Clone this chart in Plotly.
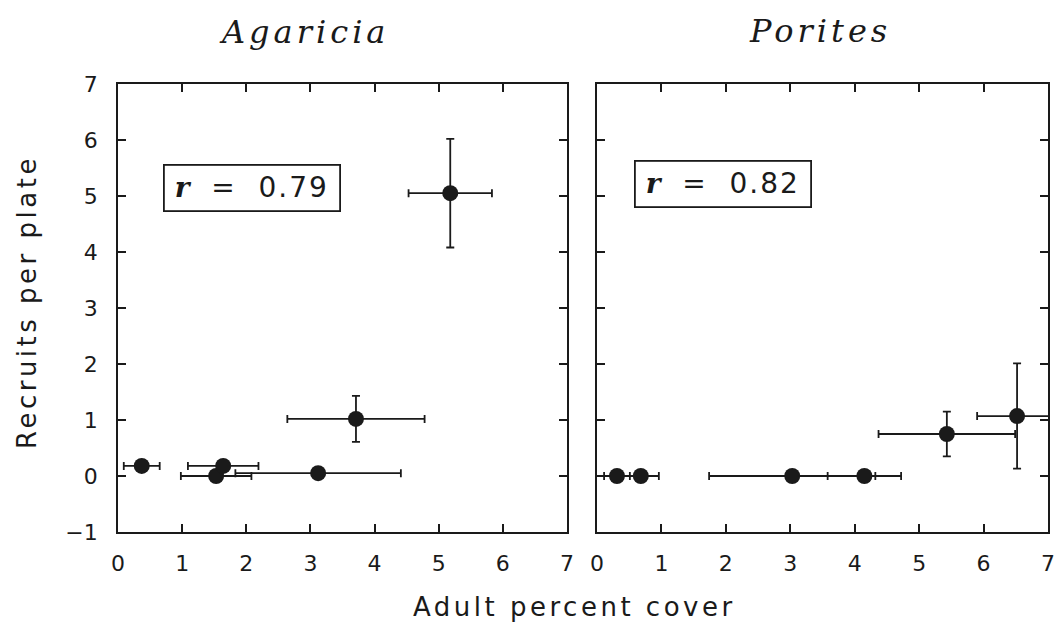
import plotly.graph_objects as go

# ---- data ----
agaricia_cover = [0.37, 1.53, 1.64, 3.12, 3.71, 5.18]
agaricia_cover_err = [0.28, 0.55, 0.55, 1.29, 1.07, 0.65]
agaricia_recruits = [0.18, 0.0, 0.18, 0.05, 1.02, 5.05]
agaricia_recruits_err = [0.0, 0.0, 0.0, 0.0, 0.41, 0.97]

porites_cover = [0.31, 0.68, 3.03, 4.15, 5.43, 6.52]
porites_cover_err = [0.20, 0.28, 1.29, 0.57, 1.06, 0.62]
porites_recruits = [0.0, 0.0, 0.0, 0.0, 0.75, 1.07]
porites_recruits_err = [0.0, 0.0, 0.0, 0.0, 0.40, 0.94]

panel_titles = ["Agaricia", "Porites"]
r_values = ["0.79", "0.82"]
tick_vals_x = [0, 1, 2, 3, 4, 5, 6, 7]
tick_vals_y = [-1, 0, 1, 2, 3, 4, 5, 6, 7]

W, H = 1059, 624
INK = "#1a1a1a"
SANS = "DejaVu Sans"

def px_x(p):
    return p / W

def px_y(p):
    return 1 - p / H

fig = go.Figure()

def add_panel(x, xerr, y, yerr, xa, ya):
    fig.add_trace(go.Scatter(
        x=x, y=y, mode="markers", xaxis=xa, yaxis=ya,
        marker=dict(color=INK, size=16, symbol="circle"),
        error_x=dict(type="data", array=xerr, visible=True, color=INK, thickness=1.8, width=4),
        error_y=dict(type="data", array=yerr, visible=True, color=INK, thickness=1.8, width=4),
        showlegend=False, hoverinfo="skip",
    ))

add_panel(agaricia_cover, agaricia_cover_err, agaricia_recruits, agaricia_recruits_err, "x", "y")
add_panel(porites_cover, porites_cover_err, porites_recruits, porites_recruits_err, "x2", "y2")

yd = [px_y(532), px_y(84)]
common_x = dict(range=[0, 7], tickvals=tick_vals_x, ticks="inside", ticklen=8, tickwidth=1.8,
                tickcolor=INK, showline=True, linecolor=INK, linewidth=1.8, mirror="ticks",
                showgrid=False, zeroline=False, fixedrange=True, automargin=False,
                tickfont=dict(family=SANS, size=22, color=INK), ticklabelstandoff=11)
common_y = dict(range=[-1, 7], tickvals=tick_vals_y, ticks="inside", ticklen=8, tickwidth=1.8,
                tickcolor=INK, showline=True, linecolor=INK, linewidth=1.8, mirror="ticks",
                showgrid=False, zeroline=False, fixedrange=True, automargin=False,
                tickfont=dict(family=SANS, size=22, color=INK), ticklabelstandoff=14)

fig.update_layout(
    width=W, height=H, autosize=False,
    margin=dict(l=0, r=0, t=0, b=0, autoexpand=False),
    paper_bgcolor="white", plot_bgcolor="white",
    xaxis=dict(domain=[px_x(118), px_x(567)], anchor="y", **common_x),
    yaxis=dict(domain=yd, anchor="x", **common_y),
    xaxis2=dict(domain=[px_x(597), px_x(1048)], anchor="y2", **common_x),
    yaxis2=dict(domain=yd, anchor="x2", showticklabels=False, **common_y),
)

def spaced(t, sp):
    return '<span style="letter-spacing:%spx">%s</span>' % (sp, t)

anns = []
# panel titles
for t, cx, cy in zip(panel_titles, [304, 820], [32, 31]):
    anns.append(dict(x=px_x(cx), y=px_y(cy), xref="paper", yref="paper",
                     text="<i>" + spaced(t, 4) + "</i>", showarrow=False,
                     xanchor="center", yanchor="middle",
                     font=dict(family="DejaVu Serif", size=32, color=INK)))
# r boxes
for rv, cx, cy in zip(r_values, [251.5, 723], [188, 184]):
    txt = ('<span style="font-family:DejaVu Serif"><b><i>r</i></b></span>'
           + spaced("  =  " + rv, 2))
    anns.append(dict(x=px_x(cx), y=px_y(cy), xref="paper", yref="paper",
                     text=txt, showarrow=False, xanchor="center", yanchor="middle",
                     width=170, height=40, align="center",
                     bordercolor=INK, borderwidth=1.8, borderpad=2, bgcolor="white",
                     font=dict(family=SANS, size=28, color=INK)))
# axis titles
anns.append(dict(x=px_x(574), y=px_y(607), xref="paper", yref="paper",
                 text=spaced("Adult percent cover", 3.5), showarrow=False,
                 xanchor="center", yanchor="middle",
                 font=dict(family=SANS, size=26, color=INK)))
anns.append(dict(x=px_x(27), y=px_y(302), xref="paper", yref="paper",
                 text=spaced("Recruits per plate", 3.5), showarrow=False, textangle=-90,
                 xanchor="center", yanchor="middle",
                 font=dict(family=SANS, size=26, color=INK)))
fig.update_layout(annotations=anns)

fig.write_html("out.html")
